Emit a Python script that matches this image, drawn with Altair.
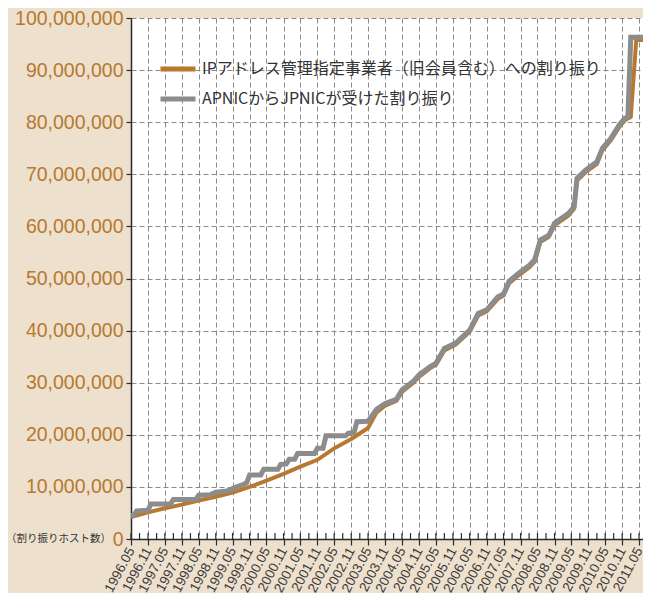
import altair as alt
import pandas as pd

label_ip = "IPアドレス管理指定事業者（旧会員含む）への割り振り"
label_apnic = "APNICからJPNICが受けた割り振り"
axis_note = "（割り振りホスト数）"

# IP address management designated operators (millions of hosts)
ip_dates = ["1996-05", "1996-11", "1997-05", "1997-11", "1998-05", "1998-11", "1999-05",
            "1999-11", "2000-05", "2000-11", "2001-05", "2001-11", "2002-05", "2002-11",
            "2003-05", "2003-08", "2003-11", "2004-03", "2004-05", "2004-09", "2004-11",
            "2005-03", "2005-05", "2005-08", "2005-12", "2006-05", "2006-08", "2006-11",
            "2007-03", "2007-05", "2007-07", "2007-11", "2008-02", "2008-04", "2008-06",
            "2008-09", "2008-11", "2009-04", "2009-06", "2009-07", "2009-10", "2010-02",
            "2010-04", "2010-07", "2010-10", "2010-12", "2011-02", "2011-04", "2011-12"]
ip_values = [4.2, 5.1, 5.9, 6.6, 7.4, 8.1, 8.9,
             10.0, 11.2, 12.5, 13.9, 15.2, 17.4, 19.2,
             21.3, 24.3, 25.6, 26.5, 28.2, 30.0, 31.1,
             32.8, 33.4, 36.2, 37.3, 39.8, 42.9, 43.7,
             46.1, 46.7, 49.1, 50.9, 52.1, 53.2, 57.0,
             58.0, 60.2, 62.1, 63.4, 68.8, 70.4, 72.0,
             74.6, 76.5, 79.1, 80.4, 81.0, 95.8, 95.8]

# APNIC -> JPNIC allocations (millions of hosts)
apnic_dates = ["1996-05", "1996-06", "1996-07", "1996-11", "1996-12", "1997-07", "1997-08",
               "1998-04", "1998-05", "1998-09", "1998-11", "1999-03", "1999-06", "1999-09",
               "1999-10", "1999-11", "2000-03", "2000-04", "2000-09", "2000-10", "2000-12",
               "2001-01", "2001-03", "2001-04", "2001-10", "2001-11", "2002-01", "2002-02",
               "2002-09", "2002-10", "2002-12", "2003-01", "2003-05", "2003-08", "2003-11",
               "2004-03", "2004-05", "2004-09", "2004-11", "2005-03", "2005-05", "2005-08",
               "2005-12", "2006-05", "2006-08", "2006-11", "2007-03", "2007-05", "2007-07",
               "2007-11", "2008-02", "2008-04", "2008-06", "2008-09", "2008-11", "2009-04",
               "2009-06", "2009-07", "2009-10", "2010-02", "2010-04", "2010-07", "2010-10",
               "2010-12", "2011-01", "2011-02", "2011-12"]
apnic_values = [4.5, 4.6, 5.4, 5.5, 6.7, 6.7, 7.6,
                7.6, 8.4, 8.5, 9.0, 9.2, 9.9, 10.5,
                10.8, 12.3, 12.3, 13.4, 13.4, 14.3, 14.4,
                15.3, 15.3, 16.4, 16.4, 17.4, 17.4, 19.8,
                19.8, 20.3, 20.4, 22.5, 22.6, 24.9, 26.0,
                26.8, 28.6, 30.3, 31.5, 33.1, 33.7, 36.6,
                37.6, 40.1, 43.3, 44.0, 46.5, 47.0, 49.5,
                51.3, 52.5, 53.6, 57.4, 58.3, 60.6, 62.5,
                63.8, 69.2, 70.8, 72.4, 75.0, 76.9, 79.5,
                80.8, 81.0, 96.3, 96.3]

y_ticks = [0, 10_000_000, 20_000_000, 30_000_000, 40_000_000, 50_000_000,
           60_000_000, 70_000_000, 80_000_000, 90_000_000, 100_000_000]

# tick positions: labelled every 6 months, small ticks every 3 months
label_months = []
quarter_months = []
for yr in range(1996, 2012):
    for m in (2, 5, 8, 11):
        if (yr, m) < (1996, 5) or (yr, m) > (2011, 5):
            continue
        quarter_months.append(f"{yr}-{m:02d}-01")
        if m in (5, 11):
            label_months.append((yr, m))

W, H = 512, 521
ORANGE = "#B8782E"
GRAY = "#8C8C8C"
DARK = "#2B2B2B"

df_ip = pd.DataFrame({"date": [d + "-01" for d in ip_dates],
                      "hosts": [v * 1_000_000 for v in ip_values],
                      "series": label_ip})
df_ap = pd.DataFrame({"date": [d + "-01" for d in apnic_dates],
                      "hosts": [v * 1_000_000 for v in apnic_values],
                      "series": label_apnic})
df_ticks = pd.DataFrame({"date": quarter_months})
df_note = pd.DataFrame({"t": [axis_note]})

x_scale = alt.Scale(type="utc",
                    domain=[alt.DateTime(year=1996, month=5, date=1, utc=True),
                            alt.DateTime(year=2011, month=6, date=13, utc=True)])
x_axis = alt.Axis(values=[alt.DateTime(year=y, month=m, date=1, utc=True) for y, m in label_months],
                  labelExpr="utcFormat(datum.value, '%Y.%m')",
                  title=None, grid=True, gridColor="#8A8A8A", gridDash=[5, 3], gridWidth=1,
                  domainColor=DARK, domainWidth=1.5, tickColor=DARK, tickSize=6, tickWidth=1.2,
                  labelColor="#3A3A3A", labelFont="Liberation Sans", labelFontSize=13.5,
                  labelAngle=-62, labelAlign="right", labelBaseline="middle",
                  labelPadding=3, labelOverlap=False, labelFlush=False)
y_axis = alt.Axis(values=y_ticks, format=",", title=None, grid=True,
                  gridColor="#8A8A8A", gridDash=[5, 3], gridWidth=1, domainColor=DARK,
                  domainWidth=1.5, tickColor=DARK, tickSize=5, tickWidth=1.2, labelColor=ORANGE,
                  labelFont="Liberation Sans", labelFontSize=19.5, labelPadding=3)
y_enc = alt.Y("hosts:Q", scale=alt.Scale(domain=[0, 100_000_000], nice=False), axis=y_axis)
color_enc = alt.Color("series:N",
                      scale=alt.Scale(domain=[label_ip, label_apnic], range=[ORANGE, GRAY]),
                      legend=alt.Legend(orient="none", legendX=27, legendY=31, title=None,
                                        symbolType="stroke", symbolSize=1225,
                                        symbolStrokeWidth=5, labelFontSize=16,
                                        labelFont="Noto Sans CJK JP", labelColor="#333333",
                                        labelOffset=4, rowPadding=0, labelLimit=600))

ip_line = alt.Chart(df_ip).mark_line(strokeWidth=4, clip=True).encode(
    x=alt.X("date:T", scale=x_scale, axis=x_axis), y=y_enc, color=color_enc)
ap_line = alt.Chart(df_ap).mark_line(strokeWidth=5, clip=True).encode(
    x=alt.X("date:T", scale=x_scale, axis=x_axis), y=y_enc, color=color_enc)
inner_ticks = alt.Chart(df_ticks).mark_rule(color=DARK, strokeWidth=1.2).encode(
    x=alt.X("date:T", scale=x_scale, axis=x_axis), y=alt.value(H - 6), y2=alt.value(H))
note = alt.Chart(df_note).mark_text(align="right", baseline="middle", font="Noto Sans CJK JP",
                                    fontSize=10.5, color="#333333").encode(
    text="t:N", x=alt.value(-20), y=alt.value(H))

chart = alt.layer(ip_line, ap_line, inner_ticks, note).properties(
    width=W, height=H, background="#EDE1CE",
    autosize=alt.AutoSizeParams(type="none"),
    padding={"left": 123, "top": 10, "right": 0, "bottom": 54},
).configure_view(fill="white", stroke=None).configure_axisY(labelExpr="format(datum.value, ',.0f')")

chart.save("out.html", embed_options={"renderer": "svg", "actions": False})
